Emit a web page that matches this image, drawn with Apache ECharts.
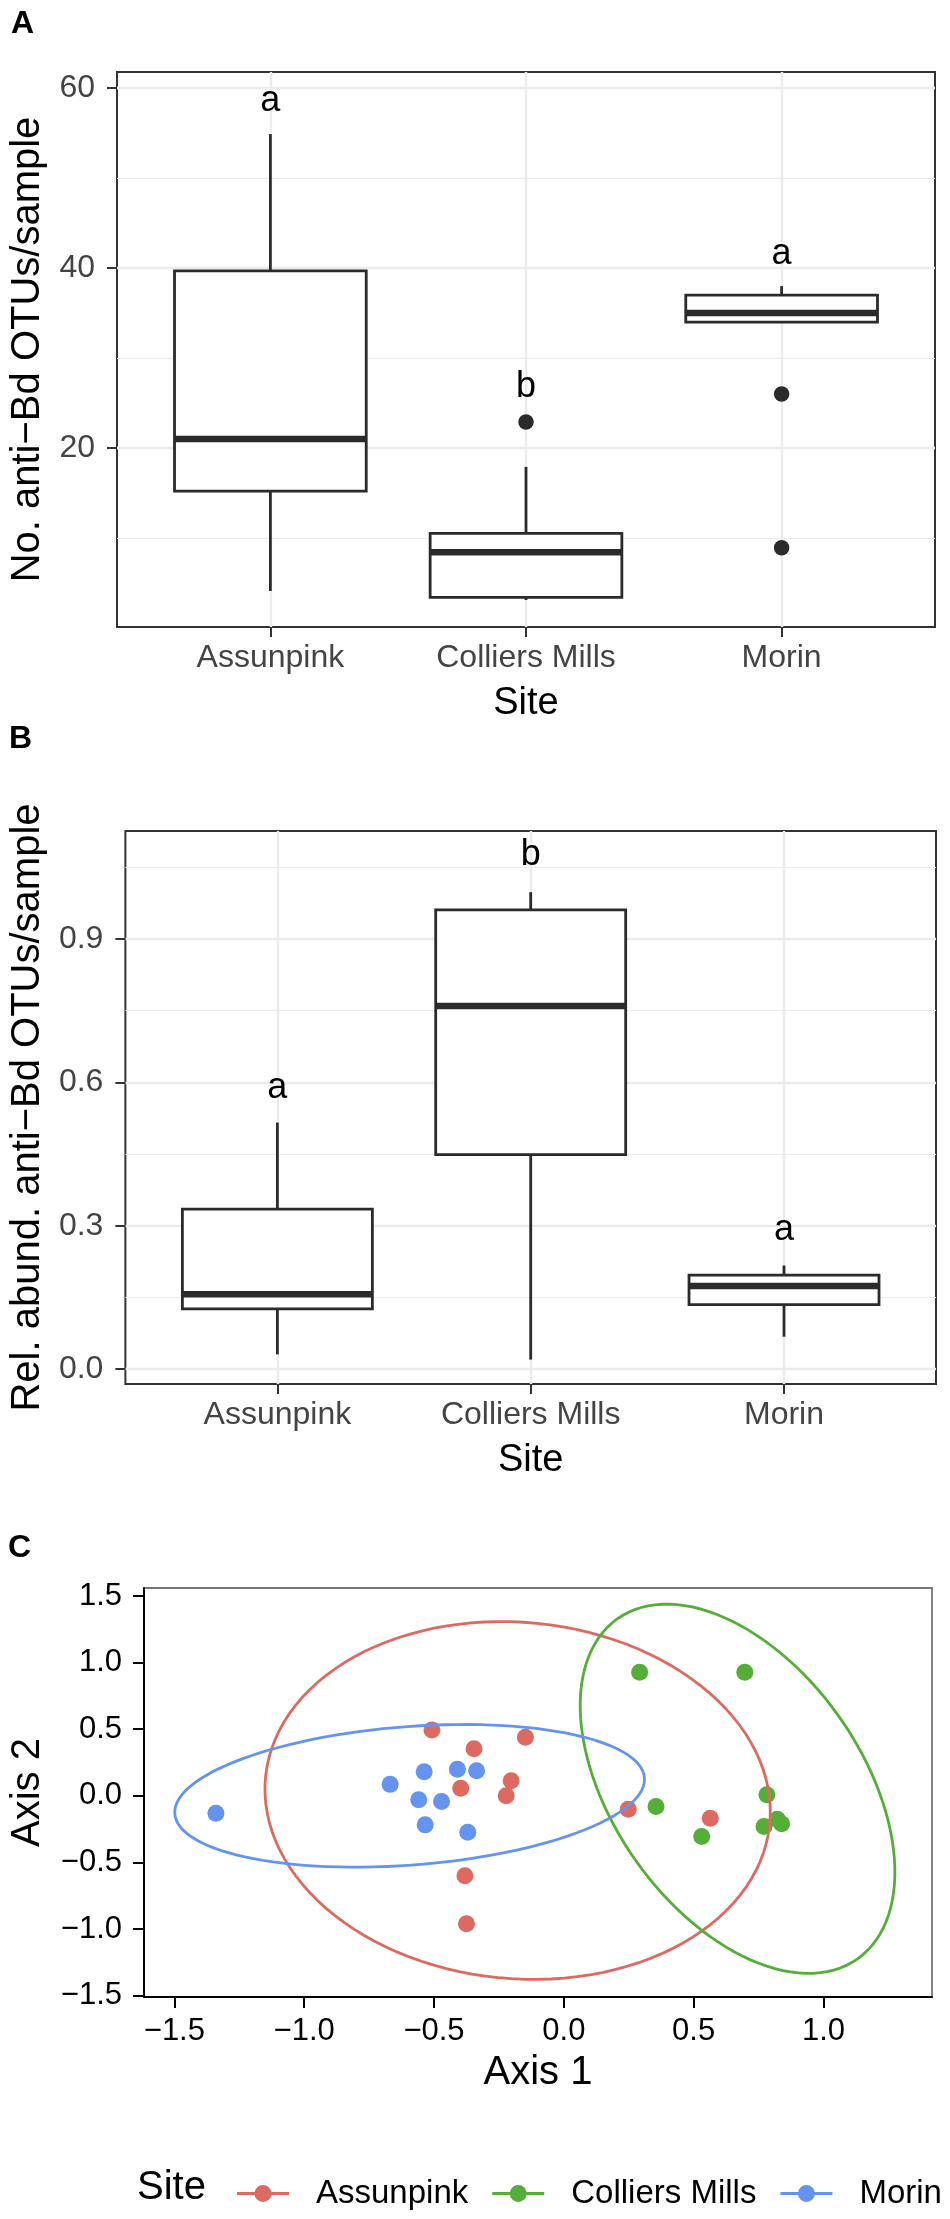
<!DOCTYPE html>
<html>
<head>
<meta charset="utf-8">
<script src="https://cdn.jsdelivr.net/npm/echarts@6/dist/echarts.min.js"></script>
<style>
  html, body { margin: 0; padding: 0; background: #fff; }
  #chart { width: 950px; height: 2219px; }
</style>
</head>
<body>
<div id="chart"></div>
<script>
const FONT = '"Liberation Sans", Arial, Helvetica, sans-serif';

const sites = ['Assunpink', 'Colliers Mills', 'Morin'];
const sitePos = [1, 2, 3];
const siteColors = ['#DC6A60', '#55AE37', '#6494F0'];

// A: number of anti-Bd OTUs per sample
const otuLow = [4.1, 3.1, 34.0];
const otuQ1 = [15.2, 3.4, 34.0];
const otuMed = [21.0, 8.4, 35.0];
const otuQ3 = [39.7, 10.5, 37.0];
const otuHigh = [54.9, 17.9, 38.0];
const otuOutliers = [[2, 22.9], [3, 26.0], [3, 8.9]];
const otuLetters = ['a', 'b', 'a'];
const otuLetterY = [58.6, 26.8, 41.6];
const otuTicks = [20, 40, 60];
const otuMinor = [10, 30, 50];

// B: relative abundance of anti-Bd OTUs per sample
const relLow = [0.031, 0.020, 0.068];
const relQ1 = [0.126, 0.449, 0.135];
const relMed = [0.157, 0.760, 0.174];
const relQ3 = [0.335, 0.961, 0.197];
const relHigh = [0.516, 0.998, 0.217];
const relLetters = ['a', 'b', 'a'];
const relLetterY = [0.589, 1.076, 0.290];
const relTicks = [0, 0.3, 0.6, 0.9];
const relMinor = [0.15, 0.45, 0.75, 1.05];

// C: ordination
const ordAssunpink = [[-0.508, 0.495], [-0.346, 0.353], [-0.397, 0.057], [-0.222, 0.0], [-0.203, 0.114],
  [-0.148, 0.440], [-0.381, -0.600], [-0.375, -0.960], [0.248, -0.100], [0.564, -0.168]];
const ordColliers = [[0.292, 0.928], [0.697, 0.928], [0.355, -0.080], [0.531, -0.305], [0.782, 0.008],
  [0.771, -0.230], [0.822, -0.175], [0.839, -0.210]];
const ordMorin = [[-1.340, -0.130], [-0.669, 0.086], [-0.538, 0.180], [-0.410, 0.200], [-0.336, 0.189],
  [-0.559, -0.030], [-0.471, -0.042], [-0.534, -0.218], [-0.370, -0.273]];
const ellipseCenter = [[-0.178, -0.035], [0.669, 0.053], [-0.594, 0.0]];
const ellipseRadii = [[0.969, 1.346], [0.529, 1.417], [0.917, 0.514]];
const ellipseTilt = [5.5, 13, 11.4];
const axis1Ticks = [-1.5, -1.0, -0.5, 0.0, 0.5, 1.0];
const axis2Ticks = [-1.5, -1.0, -0.5, 0.0, 0.5, 1.0, 1.5];

const minus = v => String(v).replace('-', '\u2212');

function boxRender(params, api) {
  const x = api.value(0);
  const half = 0.375;
  const lo = api.coord([x, api.value(1)]);
  const q1 = api.coord([x + half, api.value(2)]);
  const md = api.coord([x - half, api.value(3)]);
  const q3 = api.coord([x - half, api.value(4)]);
  const hi = api.coord([x, api.value(5)]);
  const line = { stroke: '#2b2b2b', lineWidth: 2.8 };
  return {
    type: 'group',
    children: [
      { type: 'line', shape: { x1: hi[0], y1: hi[1], x2: hi[0], y2: q3[1] }, style: line },
      { type: 'line', shape: { x1: lo[0], y1: lo[1], x2: lo[0], y2: q1[1] }, style: line },
      { type: 'rect', shape: { x: q3[0], y: q3[1], width: q1[0] - q3[0], height: q1[1] - q3[1] },
        style: { fill: '#fff', stroke: '#2b2b2b', lineWidth: 2.8 } },
      { type: 'line', shape: { x1: md[0], y1: md[1], x2: q1[0], y2: md[1] },
        style: { stroke: '#2b2b2b', lineWidth: 6.5 } }
    ]
  };
}

function letterRender(letters) {
  return function (params, api) {
    const p = api.coord([api.value(0), api.value(1)]);
    return {
      type: 'text', x: p[0], y: p[1],
      style: { text: letters[params.dataIndex], fontSize: 36, fontFamily: FONT, fill: '#000',
        align: 'center', verticalAlign: 'middle' }
    };
  };
}

function ellipseRender(params, api) {
  const i = params.dataIndex;
  const c = ellipseCenter[i], r = ellipseRadii[i];
  const phi = ellipseTilt[i] * Math.PI / 180;
  const pts = [];
  for (let k = 0; k <= 120; k++) {
    const t = k / 120 * 2 * Math.PI;
    const ex = r[0] * Math.cos(t), ey = r[1] * Math.sin(t);
    pts.push(api.coord([c[0] + ex * Math.cos(phi) - ey * Math.sin(phi),
                        c[1] + ex * Math.sin(phi) + ey * Math.cos(phi)]));
  }
  return { type: 'polyline', shape: { points: pts },
    style: { stroke: siteColors[i], lineWidth: 2.8, fill: 'none' } };
}

function siteAxis(gridIndex) {
  return {
    type: 'value', gridIndex: gridIndex, min: 0.4, max: 3.6,
    axisLine: { show: false, onZero: false },
    axisTick: { show: true, customValues: sitePos, length: 10, lineStyle: { color: '#333', width: 2 } },
    axisLabel: { customValues: sitePos, formatter: v => sites[v - 1], color: '#444', fontSize: 32, margin: 15, fontFamily: FONT },
    splitLine: { show: true, lineStyle: { color: '#EBEBEB', width: 2.4 } },
    name: 'Site', nameLocation: 'middle', nameGap: 58,
    nameTextStyle: { fontSize: 38, color: '#000', fontFamily: FONT }
  };
}

function valueAxis(gridIndex, min, max, ticks, fmt, name, gap) {
  return {
    type: 'value', gridIndex: gridIndex, min: min, max: max,
    axisLine: { show: false, onZero: false },
    axisTick: { show: true, customValues: ticks, length: 10, lineStyle: { color: '#333', width: 2 } },
    axisLabel: { customValues: ticks, formatter: fmt, color: '#444', fontSize: 32, margin: 22, fontFamily: FONT },
    splitLine: { show: true, lineStyle: { color: '#EBEBEB', width: 2.4 } },
    name: name, nameLocation: 'middle', nameRotate: 90, nameGap: gap,
    nameTextStyle: { fontSize: 40, color: '#000', fontFamily: FONT }
  };
}

function minorAxis(gridIndex, min, max, ticks) {
  return {
    type: 'value', gridIndex: gridIndex, min: min, max: max,
    axisLine: { show: false, onZero: false },
    axisTick: { show: false, customValues: ticks },
    axisLabel: { show: false, customValues: ticks },
    splitLine: { show: true, lineStyle: { color: '#EBEBEB', width: 1.2 } }
  };
}

const keyIcon = 'path://M0,7 L52,7 L52,10 L0,10 Z M17.5,8.5 A8.5,8.5 0 1,1 34.5,8.5 A8.5,8.5 0 1,1 17.5,8.5 Z';

const chart = echarts.init(document.getElementById('chart'));
chart.setOption({
  animation: false,
  backgroundColor: '#fff',
  textStyle: { fontFamily: FONT },
  graphic: [
    { type: 'text', left: 11, top: 8, style: { text: 'A', font: 'bold 32px ' + FONT, fill: '#000' } },
    { type: 'text', left: 9, top: 723, style: { text: 'B', font: 'bold 32px ' + FONT, fill: '#000' } },
    { type: 'text', left: 8, top: 1532, style: { text: 'C', font: 'bold 32px ' + FONT, fill: '#000' } },
    { type: 'text', left: 137, top: 2168, style: { text: 'Site', font: '40px ' + FONT, fill: '#000' } }
  ],
  legend: {
    left: 232, top: 2172, width: 760, itemWidth: 52, itemHeight: 17, itemGap: 24,
    selectedMode: false,
    textStyle: { fontSize: 33, color: '#000', fontFamily: FONT, padding: [0, 0, 0, 22] },
    data: sites.map(s => ({ name: s, icon: keyIcon }))
  },
  grid: [
    { left: 112, top: 72, width: 823, height: 555, show: true, borderColor: '#333', borderWidth: 2 },
    { left: 121, top: 831, width: 815, height: 553, show: true, borderColor: '#333', borderWidth: 2 },
    { left: 140, top: 1588, width: 792, height: 409, show: true, borderColor: '#777', borderWidth: 1.8 }
  ],
  xAxis: [
    siteAxis(0),
    siteAxis(1),
    {
      type: 'value', gridIndex: 2, min: -1.617, max: 1.418,
      axisLine: { show: true, onZero: false, lineStyle: { color: '#000', width: 2 } },
      axisTick: { show: true, customValues: axis1Ticks, length: 11, lineStyle: { color: '#000', width: 2 } },
      axisLabel: { customValues: axis1Ticks, formatter: v => minus(v.toFixed(1)), color: '#000', fontSize: 31, margin: 19, fontFamily: FONT },
      splitLine: { show: false },
      name: 'Axis 1', nameLocation: 'middle', nameGap: 56,
      nameTextStyle: { fontSize: 40, color: '#000', fontFamily: FONT }
    }
  ],
  yAxis: [
    valueAxis(0, 0.1, 61.8, otuTicks, v => String(v), 'No. anti\u2212Bd OTUs/sample', 69),
    minorAxis(0, 0.1, 61.8, otuMinor),
    valueAxis(1, -0.031, 1.126, relTicks, v => v.toFixed(1), 'Rel. abund. anti\u2212Bd OTUs/sample', 77),
    minorAxis(1, -0.031, 1.126, relMinor),
    {
      type: 'value', gridIndex: 2, min: -1.51, max: 1.56,
      axisLine: { show: true, onZero: false, lineStyle: { color: '#000', width: 2 } },
      axisTick: { show: true, customValues: axis2Ticks, length: 11, lineStyle: { color: '#000', width: 2 } },
      axisLabel: { customValues: axis2Ticks, formatter: v => minus(v.toFixed(1)), color: '#000', fontSize: 31, margin: 22, fontFamily: FONT },
      splitLine: { show: false },
      name: 'Axis 2', nameLocation: 'middle', nameRotate: 90, nameGap: 96,
      nameTextStyle: { fontSize: 40, color: '#000', fontFamily: FONT }
    }
  ],
  series: [
    {
      type: 'custom', name: 'otu box', xAxisIndex: 0, yAxisIndex: 0, renderItem: boxRender,
      encode: { x: 0, y: [1, 2, 3, 4, 5] },
      data: sitePos.map((p, i) => [p, otuLow[i], otuQ1[i], otuMed[i], otuQ3[i], otuHigh[i]])
    },
    {
      type: 'scatter', name: 'otu outliers', xAxisIndex: 0, yAxisIndex: 0, symbolSize: 15.5,
      itemStyle: { color: '#2b2b2b', opacity: 1 }, data: otuOutliers
    },
    {
      type: 'custom', name: 'otu letters', xAxisIndex: 0, yAxisIndex: 0, renderItem: letterRender(otuLetters),
      encode: { x: 0, y: 1 }, data: sitePos.map((p, i) => [p, otuLetterY[i]])
    },
    {
      type: 'custom', name: 'rel box', xAxisIndex: 1, yAxisIndex: 2, renderItem: boxRender,
      encode: { x: 0, y: [1, 2, 3, 4, 5] },
      data: sitePos.map((p, i) => [p, relLow[i], relQ1[i], relMed[i], relQ3[i], relHigh[i]])
    },
    {
      type: 'custom', name: 'rel letters', xAxisIndex: 1, yAxisIndex: 2, renderItem: letterRender(relLetters),
      encode: { x: 0, y: 1 }, data: sitePos.map((p, i) => [p, relLetterY[i]])
    },
    {
      type: 'scatter', name: sites[0], xAxisIndex: 2, yAxisIndex: 4, symbolSize: 17,
      itemStyle: { color: siteColors[0], opacity: 1 }, data: ordAssunpink
    },
    {
      type: 'scatter', name: sites[1], xAxisIndex: 2, yAxisIndex: 4, symbolSize: 17,
      itemStyle: { color: siteColors[1], opacity: 1 }, data: ordColliers
    },
    {
      type: 'scatter', name: sites[2], xAxisIndex: 2, yAxisIndex: 4, symbolSize: 17,
      itemStyle: { color: siteColors[2], opacity: 1 }, data: ordMorin
    },
    {
      type: 'custom', name: 'ellipses', xAxisIndex: 2, yAxisIndex: 4, renderItem: ellipseRender, z: 5,
      encode: { x: 0, y: 1 }, data: ellipseCenter
    }
  ]
});
</script>
</body>
</html>
